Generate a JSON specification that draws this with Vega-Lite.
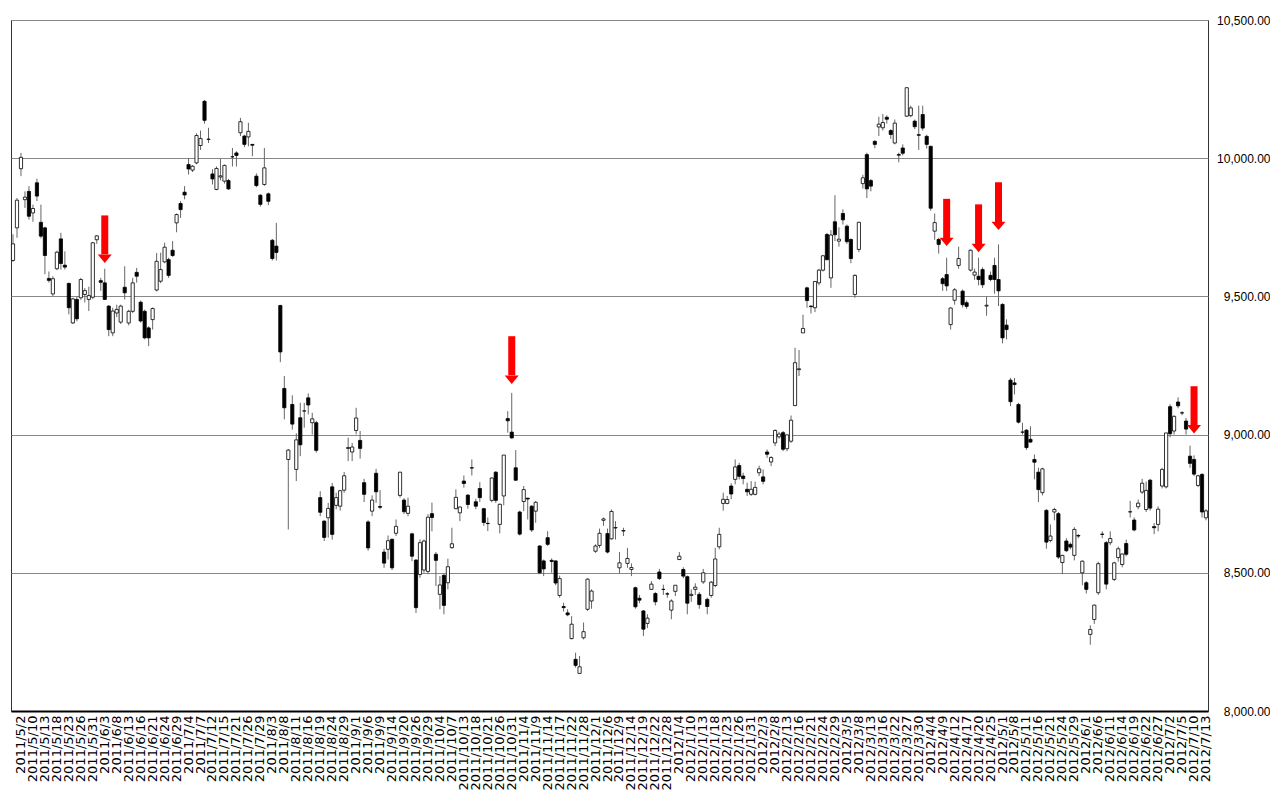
{
"$schema": "https://vega.github.io/schema/vega-lite/v6.json",
"width": 1197,
"height": 691,
"padding": {"left": 10, "top": 14, "right": 0, "bottom": 0},
"background": "white",
"config": {"view": {"stroke": "#333", "strokeWidth": 1}, "font": "Liberation Sans"},
"data": {"values": [
{"d":"2011/4/27","o":9630,"h":9725,"l":9625,"c":9690},
{"d":"2011/4/28","o":9748,"h":9856,"l":9712,"c":9848},
{"d":"2011/5/2","o":9962,"h":10019,"l":9935,"c":10003},
{"d":"2011/5/6","o":9850,"h":9880,"l":9820,"c":9859},
{"d":"2011/5/9","o":9880,"h":9899,"l":9778,"c":9790},
{"d":"2011/5/10","o":9802,"h":9832,"l":9770,"c":9818},
{"d":"2011/5/11","o":9911,"h":9926,"l":9845,"c":9863},
{"d":"2011/5/12","o":9768,"h":9832,"l":9710,"c":9718},
{"d":"2011/5/13","o":9748,"h":9752,"l":9580,"c":9648},
{"d":"2011/5/16","o":9565,"h":9590,"l":9550,"c":9558},
{"d":"2011/5/17","o":9509,"h":9573,"l":9501,"c":9564},
{"d":"2011/5/18","o":9600,"h":9665,"l":9595,"c":9660},
{"d":"2011/5/19","o":9708,"h":9730,"l":9597,"c":9619},
{"d":"2011/5/20","o":9613,"h":9663,"l":9597,"c":9606},
{"d":"2011/5/23","o":9547,"h":9550,"l":9435,"c":9459},
{"d":"2011/5/24","o":9404,"h":9495,"l":9400,"c":9491},
{"d":"2011/5/25","o":9489,"h":9500,"l":9410,"c":9419},
{"d":"2011/5/26","o":9495,"h":9567,"l":9488,"c":9561},
{"d":"2011/5/27","o":9507,"h":9530,"l":9478,"c":9521},
{"d":"2011/5/30","o":9489,"h":9535,"l":9447,"c":9503},
{"d":"2011/5/31","o":9497,"h":9697,"l":9490,"c":9694},
{"d":"2011/6/1","o":9705,"h":9722,"l":9690,"c":9719},
{"d":"2011/6/2","o":9557,"h":9567,"l":9520,"c":9551},
{"d":"2011/6/3","o":9549,"h":9600,"l":9487,"c":9489,"at":9793,"ab":9652,"ah":9621},
{"d":"2011/6/6","o":9465,"h":9468,"l":9356,"c":9380},
{"d":"2011/6/7","o":9368,"h":9459,"l":9356,"c":9447},
{"d":"2011/6/8","o":9440,"h":9470,"l":9425,"c":9453},
{"d":"2011/6/9","o":9407,"h":9470,"l":9400,"c":9465},
{"d":"2011/6/10","o":9533,"h":9609,"l":9489,"c":9513},
{"d":"2011/6/13","o":9404,"h":9452,"l":9395,"c":9446},
{"d":"2011/6/14","o":9446,"h":9567,"l":9440,"c":9549},
{"d":"2011/6/15","o":9587,"h":9603,"l":9550,"c":9573},
{"d":"2011/6/16","o":9479,"h":9485,"l":9405,"c":9411},
{"d":"2011/6/17","o":9446,"h":9452,"l":9345,"c":9350},
{"d":"2011/6/20","o":9386,"h":9392,"l":9320,"c":9350},
{"d":"2011/6/21","o":9416,"h":9460,"l":9380,"c":9456},
{"d":"2011/6/22","o":9523,"h":9657,"l":9518,"c":9627},
{"d":"2011/6/23","o":9555,"h":9658,"l":9548,"c":9597},
{"d":"2011/6/24","o":9625,"h":9694,"l":9620,"c":9678},
{"d":"2011/6/27","o":9633,"h":9640,"l":9567,"c":9576},
{"d":"2011/6/28","o":9667,"h":9700,"l":9643,"c":9648},
{"d":"2011/6/29","o":9766,"h":9800,"l":9732,"c":9796},
{"d":"2011/6/30","o":9836,"h":9845,"l":9784,"c":9814},
{"d":"2011/7/1","o":9877,"h":9899,"l":9851,"c":9867},
{"d":"2011/7/4","o":9977,"h":10001,"l":9941,"c":9961},
{"d":"2011/7/5","o":9957,"h":9975,"l":9950,"c":9971},
{"d":"2011/7/6","o":9983,"h":10090,"l":9978,"c":10082},
{"d":"2011/7/7","o":10046,"h":10100,"l":10030,"c":10071},
{"d":"2011/7/8","o":10206,"h":10210,"l":10125,"c":10137},
{"d":"2011/7/11","o":10068,"h":10110,"l":10055,"c":10069},
{"d":"2011/7/12","o":9943,"h":9960,"l":9905,"c":9925},
{"d":"2011/7/13","o":9887,"h":9970,"l":9884,"c":9963},
{"d":"2011/7/14","o":9932,"h":9997,"l":9920,"c":9936},
{"d":"2011/7/15","o":9917,"h":9977,"l":9908,"c":9974},
{"d":"2011/7/19","o":9919,"h":9925,"l":9885,"c":9889},
{"d":"2011/7/20","o":10005,"h":10037,"l":9970,"c":10005},
{"d":"2011/7/21","o":10019,"h":10025,"l":9970,"c":10010},
{"d":"2011/7/22","o":10092,"h":10146,"l":10080,"c":10132},
{"d":"2011/7/25","o":10080,"h":10085,"l":10040,"c":10050},
{"d":"2011/7/26","o":10077,"h":10128,"l":10043,"c":10097},
{"d":"2011/7/27","o":10050,"h":10050,"l":10007,"c":10047},
{"d":"2011/7/28","o":9935,"h":9945,"l":9895,"c":9901},
{"d":"2011/7/29","o":9866,"h":9870,"l":9825,"c":9833},
{"d":"2011/8/1","o":9905,"h":10037,"l":9900,"c":9965},
{"d":"2011/8/2","o":9871,"h":9876,"l":9830,"c":9844},
{"d":"2011/8/3","o":9703,"h":9708,"l":9630,"c":9637},
{"d":"2011/8/4","o":9682,"h":9766,"l":9630,"c":9659},
{"d":"2011/8/5","o":9467,"h":9470,"l":9262,"c":9299},
{"d":"2011/8/8","o":9167,"h":9212,"l":9055,"c":9097},
{"d":"2011/8/9","o":8910,"h":8948,"l":8657,"c":8944},
{"d":"2011/8/10","o":9109,"h":9142,"l":9018,"c":9038},
{"d":"2011/8/11","o":8874,"h":9005,"l":8832,"c":8981},
{"d":"2011/8/12","o":9061,"h":9115,"l":8922,"c":8963},
{"d":"2011/8/15","o":9085,"h":9115,"l":9025,"c":9086},
{"d":"2011/8/16","o":9133,"h":9149,"l":9073,"c":9107},
{"d":"2011/8/17","o":9043,"h":9079,"l":9000,"c":9057},
{"d":"2011/8/18","o":9043,"h":9050,"l":8935,"c":8943},
{"d":"2011/8/19","o":8772,"h":8795,"l":8705,"c":8719},
{"d":"2011/8/22","o":8687,"h":8690,"l":8615,"c":8628},
{"d":"2011/8/23","o":8699,"h":8753,"l":8627,"c":8733},
{"d":"2011/8/24","o":8811,"h":8825,"l":8620,"c":8639},
{"d":"2011/8/25","o":8744,"h":8790,"l":8730,"c":8772},
{"d":"2011/8/26","o":8741,"h":8800,"l":8725,"c":8797},
{"d":"2011/8/29","o":8799,"h":8865,"l":8790,"c":8851},
{"d":"2011/8/30","o":8950,"h":8989,"l":8904,"c":8953},
{"d":"2011/8/31","o":8937,"h":8970,"l":8904,"c":8955},
{"d":"2011/9/1","o":9015,"h":9097,"l":9001,"c":9060},
{"d":"2011/9/2","o":8979,"h":9013,"l":8913,"c":8950},
{"d":"2011/9/5","o":8826,"h":8840,"l":8756,"c":8784},
{"d":"2011/9/6","o":8684,"h":8690,"l":8580,"c":8590},
{"d":"2011/9/7","o":8723,"h":8780,"l":8705,"c":8763},
{"d":"2011/9/8","o":8860,"h":8876,"l":8753,"c":8793},
{"d":"2011/9/9","o":8740,"h":8799,"l":8730,"c":8737},
{"d":"2011/9/12","o":8575,"h":8587,"l":8518,"c":8535},
{"d":"2011/9/13","o":8585,"h":8635,"l":8548,"c":8616},
{"d":"2011/9/14","o":8621,"h":8625,"l":8510,"c":8518},
{"d":"2011/9/15","o":8643,"h":8693,"l":8633,"c":8668},
{"d":"2011/9/16","o":8780,"h":8865,"l":8772,"c":8864},
{"d":"2011/9/20","o":8763,"h":8770,"l":8713,"c":8721},
{"d":"2011/9/21","o":8715,"h":8772,"l":8705,"c":8741},
{"d":"2011/9/22","o":8641,"h":8645,"l":8542,"c":8560},
{"d":"2011/9/26","o":8546,"h":8550,"l":8355,"c":8374},
{"d":"2011/9/27","o":8494,"h":8621,"l":8482,"c":8609},
{"d":"2011/9/28","o":8510,"h":8620,"l":8500,"c":8615},
{"d":"2011/9/29","o":8505,"h":8712,"l":8495,"c":8701},
{"d":"2011/9/30","o":8714,"h":8754,"l":8650,"c":8700},
{"d":"2011/10/3","o":8567,"h":8575,"l":8452,"c":8545},
{"d":"2011/10/4","o":8422,"h":8488,"l":8368,"c":8456},
{"d":"2011/10/5","o":8491,"h":8495,"l":8350,"c":8382},
{"d":"2011/10/6","o":8464,"h":8551,"l":8440,"c":8522},
{"d":"2011/10/7","o":8591,"h":8663,"l":8587,"c":8605},
{"d":"2011/10/11","o":8732,"h":8802,"l":8730,"c":8773},
{"d":"2011/10/12","o":8717,"h":8740,"l":8687,"c":8738},
{"d":"2011/10/13","o":8832,"h":8852,"l":8808,"c":8823},
{"d":"2011/10/14","o":8781,"h":8785,"l":8732,"c":8747},
{"d":"2011/10/17","o":8880,"h":8910,"l":8852,"c":8879},
{"d":"2011/10/18","o":8757,"h":8768,"l":8730,"c":8741},
{"d":"2011/10/19","o":8805,"h":8828,"l":8756,"c":8772},
{"d":"2011/10/20","o":8732,"h":8735,"l":8670,"c":8682},
{"d":"2011/10/21","o":8679,"h":8700,"l":8651,"c":8678},
{"d":"2011/10/24","o":8762,"h":8845,"l":8755,"c":8843},
{"d":"2011/10/25","o":8864,"h":8868,"l":8753,"c":8762},
{"d":"2011/10/26","o":8675,"h":8750,"l":8643,"c":8748},
{"d":"2011/10/27","o":8778,"h":8926,"l":8744,"c":8926},
{"d":"2011/10/28","o":9058,"h":9085,"l":9007,"c":9050},
{"d":"2011/10/31","o":9009,"h":9151,"l":8985,"c":8988,"at":9356,"ab":9215,"ah":9183},
{"d":"2011/11/1","o":8880,"h":8944,"l":8832,"c":8835},
{"d":"2011/11/2","o":8720,"h":8725,"l":8635,"c":8640},
{"d":"2011/11/4","o":8758,"h":8814,"l":8723,"c":8801},
{"d":"2011/11/7","o":8770,"h":8771,"l":8693,"c":8767},
{"d":"2011/11/8","o":8741,"h":8745,"l":8648,"c":8655},
{"d":"2011/11/9","o":8723,"h":8760,"l":8681,"c":8755},
{"d":"2011/11/10","o":8597,"h":8600,"l":8495,"c":8500},
{"d":"2011/11/11","o":8543,"h":8548,"l":8488,"c":8514},
{"d":"2011/11/14","o":8627,"h":8651,"l":8597,"c":8603},
{"d":"2011/11/15","o":8545,"h":8552,"l":8500,"c":8541},
{"d":"2011/11/16","o":8543,"h":8545,"l":8455,"c":8463},
{"d":"2011/11/17","o":8418,"h":8490,"l":8410,"c":8479},
{"d":"2011/11/18","o":8378,"h":8392,"l":8360,"c":8374},
{"d":"2011/11/21","o":8355,"h":8368,"l":8343,"c":8348},
{"d":"2011/11/22","o":8262,"h":8343,"l":8259,"c":8314},
{"d":"2011/11/24","o":8187,"h":8211,"l":8157,"c":8165},
{"d":"2011/11/25","o":8136,"h":8199,"l":8136,"c":8160},
{"d":"2011/11/28","o":8265,"h":8320,"l":8259,"c":8287},
{"d":"2011/11/29","o":8368,"h":8480,"l":8362,"c":8477},
{"d":"2011/11/30","o":8398,"h":8440,"l":8370,"c":8434},
{"d":"2011/12/1","o":8578,"h":8603,"l":8572,"c":8597},
{"d":"2011/12/2","o":8599,"h":8660,"l":8590,"c":8643},
{"d":"2011/12/5","o":8690,"h":8700,"l":8670,"c":8695},
{"d":"2011/12/6","o":8642,"h":8660,"l":8570,"c":8575},
{"d":"2011/12/7","o":8623,"h":8729,"l":8620,"c":8722},
{"d":"2011/12/8","o":8662,"h":8687,"l":8620,"c":8664},
{"d":"2011/12/9","o":8518,"h":8575,"l":8498,"c":8536},
{"d":"2011/12/12","o":8651,"h":8663,"l":8633,"c":8653},
{"d":"2011/12/13","o":8534,"h":8590,"l":8518,"c":8552},
{"d":"2011/12/14","o":8512,"h":8534,"l":8488,"c":8519},
{"d":"2011/12/15","o":8446,"h":8450,"l":8370,"c":8377},
{"d":"2011/12/16","o":8408,"h":8420,"l":8390,"c":8401},
{"d":"2011/12/19","o":8362,"h":8365,"l":8271,"c":8296},
{"d":"2011/12/20","o":8317,"h":8350,"l":8300,"c":8336},
{"d":"2011/12/21","o":8440,"h":8470,"l":8440,"c":8459},
{"d":"2011/12/22","o":8425,"h":8430,"l":8382,"c":8395},
{"d":"2011/12/26","o":8503,"h":8514,"l":8474,"c":8479},
{"d":"2011/12/27","o":8440,"h":8457,"l":8420,"c":8440},
{"d":"2011/12/28","o":8424,"h":8430,"l":8410,"c":8423},
{"d":"2011/12/29","o":8365,"h":8404,"l":8332,"c":8398},
{"d":"2011/12/30","o":8433,"h":8454,"l":8416,"c":8455},
{"d":"2012/1/4","o":8548,"h":8575,"l":8546,"c":8560},
{"d":"2012/1/5","o":8512,"h":8520,"l":8480,"c":8488},
{"d":"2012/1/6","o":8486,"h":8490,"l":8350,"c":8390},
{"d":"2012/1/10","o":8418,"h":8440,"l":8395,"c":8422},
{"d":"2012/1/11","o":8440,"h":8462,"l":8420,"c":8448},
{"d":"2012/1/12","o":8422,"h":8430,"l":8370,"c":8385},
{"d":"2012/1/13","o":8467,"h":8514,"l":8460,"c":8500},
{"d":"2012/1/16","o":8404,"h":8410,"l":8350,"c":8378},
{"d":"2012/1/17","o":8418,"h":8470,"l":8410,"c":8466},
{"d":"2012/1/18","o":8454,"h":8590,"l":8448,"c":8550},
{"d":"2012/1/19","o":8594,"h":8663,"l":8585,"c":8639},
{"d":"2012/1/20","o":8751,"h":8790,"l":8725,"c":8766},
{"d":"2012/1/23","o":8751,"h":8778,"l":8748,"c":8765},
{"d":"2012/1/24","o":8814,"h":8824,"l":8766,"c":8785},
{"d":"2012/1/25","o":8838,"h":8910,"l":8820,"c":8883},
{"d":"2012/1/26","o":8888,"h":8898,"l":8838,"c":8849},
{"d":"2012/1/27","o":8850,"h":8862,"l":8820,"c":8841},
{"d":"2012/1/30","o":8802,"h":8826,"l":8778,"c":8793},
{"d":"2012/1/31","o":8784,"h":8832,"l":8778,"c":8802},
{"d":"2012/2/1","o":8784,"h":8830,"l":8780,"c":8809},
{"d":"2012/2/2","o":8862,"h":8888,"l":8850,"c":8876},
{"d":"2012/2/3","o":8847,"h":8874,"l":8820,"c":8831},
{"d":"2012/2/6","o":8937,"h":8946,"l":8916,"c":8929},
{"d":"2012/2/7","o":8901,"h":8922,"l":8886,"c":8917},
{"d":"2012/2/8","o":8970,"h":9019,"l":8958,"c":9015},
{"d":"2012/2/9","o":8992,"h":9010,"l":8985,"c":9002},
{"d":"2012/2/10","o":9007,"h":9013,"l":8940,"c":8947},
{"d":"2012/2/13","o":8949,"h":9000,"l":8940,"c":8999},
{"d":"2012/2/14","o":8976,"h":9069,"l":8970,"c":9052},
{"d":"2012/2/15","o":9105,"h":9314,"l":9103,"c":9260},
{"d":"2012/2/16","o":9235,"h":9306,"l":9212,"c":9238},
{"d":"2012/2/17","o":9368,"h":9434,"l":9368,"c":9384},
{"d":"2012/2/20","o":9531,"h":9535,"l":9459,"c":9485},
{"d":"2012/2/21","o":9465,"h":9467,"l":9438,"c":9463},
{"d":"2012/2/22","o":9459,"h":9554,"l":9443,"c":9554},
{"d":"2012/2/23","o":9549,"h":9600,"l":9540,"c":9595},
{"d":"2012/2/24","o":9595,"h":9650,"l":9590,"c":9647},
{"d":"2012/2/27","o":9724,"h":9730,"l":9630,"c":9633},
{"d":"2012/2/28","o":9567,"h":9740,"l":9531,"c":9722},
{"d":"2012/2/29","o":9770,"h":9866,"l":9700,"c":9723},
{"d":"2012/3/1","o":9700,"h":9750,"l":9680,"c":9707},
{"d":"2012/3/2","o":9800,"h":9815,"l":9760,"c":9777},
{"d":"2012/3/5","o":9754,"h":9760,"l":9690,"c":9698},
{"d":"2012/3/6","o":9706,"h":9710,"l":9620,"c":9637},
{"d":"2012/3/7","o":9507,"h":9580,"l":9495,"c":9576},
{"d":"2012/3/8","o":9670,"h":9770,"l":9660,"c":9768},
{"d":"2012/3/9","o":9908,"h":9940,"l":9890,"c":9929},
{"d":"2012/3/12","o":10013,"h":10020,"l":9856,"c":9889},
{"d":"2012/3/13","o":9919,"h":9925,"l":9880,"c":9899},
{"d":"2012/3/14","o":10061,"h":10065,"l":10036,"c":10050},
{"d":"2012/3/15","o":10113,"h":10150,"l":10080,"c":10123},
{"d":"2012/3/16","o":10110,"h":10160,"l":10100,"c":10129},
{"d":"2012/3/19","o":10148,"h":10155,"l":10125,"c":10141},
{"d":"2012/3/21","o":10100,"h":10105,"l":10070,"c":10086},
{"d":"2012/3/22","o":10055,"h":10140,"l":10050,"c":10127},
{"d":"2012/3/23","o":10013,"h":10020,"l":9985,"c":10011},
{"d":"2012/3/26","o":10037,"h":10050,"l":10010,"c":10018},
{"d":"2012/3/27","o":10152,"h":10255,"l":10150,"c":10255},
{"d":"2012/3/28","o":10154,"h":10190,"l":10148,"c":10182},
{"d":"2012/3/29","o":10134,"h":10140,"l":10105,"c":10114},
{"d":"2012/3/30","o":10085,"h":10190,"l":10030,"c":10083},
{"d":"2012/4/2","o":10158,"h":10190,"l":10100,"c":10109},
{"d":"2012/4/3","o":10079,"h":10085,"l":10035,"c":10050},
{"d":"2012/4/4","o":10043,"h":10045,"l":9810,"c":9819},
{"d":"2012/4/5","o":9736,"h":9800,"l":9705,"c":9767},
{"d":"2012/4/6","o":9706,"h":9712,"l":9655,"c":9688},
{"d":"2012/4/9","o":9564,"h":9570,"l":9520,"c":9546},
{"d":"2012/4/10","o":9579,"h":9640,"l":9520,"c":9538,"at":9853,"ab":9706,"ah":9682},
{"d":"2012/4/11","o":9398,"h":9460,"l":9380,"c":9458},
{"d":"2012/4/12","o":9486,"h":9530,"l":9470,"c":9524},
{"d":"2012/4/13","o":9612,"h":9680,"l":9600,"c":9637},
{"d":"2012/4/16","o":9519,"h":9525,"l":9460,"c":9470},
{"d":"2012/4/17","o":9477,"h":9485,"l":9455,"c":9464},
{"d":"2012/4/18","o":9595,"h":9670,"l":9590,"c":9667},
{"d":"2012/4/19","o":9577,"h":9600,"l":9560,"c":9588},
{"d":"2012/4/20","o":9573,"h":9640,"l":9540,"c":9561,"at":9833,"ab":9688,"ah":9660},
{"d":"2012/4/23","o":9597,"h":9605,"l":9530,"c":9542},
{"d":"2012/4/24","o":9465,"h":9500,"l":9430,"c":9468},
{"d":"2012/4/25","o":9576,"h":9590,"l":9555,"c":9561},
{"d":"2012/4/26","o":9612,"h":9640,"l":9510,"c":9561},
{"d":"2012/4/27","o":9561,"h":9688,"l":9465,"c":9520,"at":9913,"ab":9766,"ah":9740},
{"d":"2012/5/1","o":9471,"h":9475,"l":9330,"c":9350},
{"d":"2012/5/2","o":9396,"h":9417,"l":9345,"c":9380},
{"d":"2012/5/7","o":9197,"h":9205,"l":9103,"c":9119},
{"d":"2012/5/8","o":9187,"h":9205,"l":9145,"c":9181},
{"d":"2012/5/9","o":9109,"h":9115,"l":9040,"c":9045},
{"d":"2012/5/10","o":9009,"h":9043,"l":9000,"c":9009},
{"d":"2012/5/11","o":9016,"h":9020,"l":8945,"c":8953},
{"d":"2012/5/14","o":8983,"h":9030,"l":8970,"c":8973},
{"d":"2012/5/15","o":8910,"h":8928,"l":8838,"c":8900},
{"d":"2012/5/16","o":8864,"h":8880,"l":8756,"c":8801},
{"d":"2012/5/17","o":8790,"h":8880,"l":8780,"c":8876},
{"d":"2012/5/18","o":8726,"h":8730,"l":8587,"c":8611},
{"d":"2012/5/21","o":8617,"h":8675,"l":8610,"c":8633},
{"d":"2012/5/22","o":8720,"h":8735,"l":8690,"c":8729},
{"d":"2012/5/23","o":8714,"h":8720,"l":8550,"c":8557},
{"d":"2012/5/24","o":8537,"h":8565,"l":8495,"c":8563},
{"d":"2012/5/25","o":8615,"h":8625,"l":8575,"c":8580},
{"d":"2012/5/28","o":8603,"h":8610,"l":8585,"c":8593},
{"d":"2012/5/29","o":8563,"h":8665,"l":8545,"c":8657},
{"d":"2012/5/30","o":8635,"h":8640,"l":8625,"c":8633},
{"d":"2012/5/31","o":8500,"h":8545,"l":8455,"c":8542},
{"d":"2012/6/1","o":8464,"h":8470,"l":8425,"c":8440},
{"d":"2012/6/4","o":8277,"h":8310,"l":8240,"c":8295},
{"d":"2012/6/5","o":8331,"h":8385,"l":8315,"c":8383},
{"d":"2012/6/6","o":8428,"h":8540,"l":8420,"c":8533},
{"d":"2012/6/7","o":8640,"h":8650,"l":8625,"c":8639},
{"d":"2012/6/8","o":8609,"h":8615,"l":8440,"c":8459},
{"d":"2012/6/11","o":8609,"h":8650,"l":8600,"c":8624},
{"d":"2012/6/12","o":8476,"h":8540,"l":8470,"c":8536},
{"d":"2012/6/13","o":8555,"h":8595,"l":8540,"c":8587},
{"d":"2012/6/14","o":8530,"h":8570,"l":8520,"c":8568},
{"d":"2012/6/15","o":8606,"h":8620,"l":8560,"c":8567},
{"d":"2012/6/18","o":8720,"h":8760,"l":8700,"c":8721},
{"d":"2012/6/19","o":8691,"h":8700,"l":8650,"c":8655},
{"d":"2012/6/20","o":8739,"h":8765,"l":8730,"c":8752},
{"d":"2012/6/21","o":8792,"h":8840,"l":8785,"c":8824},
{"d":"2012/6/22","o":8729,"h":8830,"l":8720,"c":8798},
{"d":"2012/6/25","o":8835,"h":8840,"l":8725,"c":8734},
{"d":"2012/6/26","o":8667,"h":8680,"l":8640,"c":8663},
{"d":"2012/6/27","o":8675,"h":8740,"l":8650,"c":8730},
{"d":"2012/6/28","o":8814,"h":8880,"l":8805,"c":8874},
{"d":"2012/6/29","o":8811,"h":9006,"l":8805,"c":9006},
{"d":"2012/7/2","o":9101,"h":9110,"l":8990,"c":9003},
{"d":"2012/7/3","o":9013,"h":9070,"l":9000,"c":9066},
{"d":"2012/7/4","o":9118,"h":9135,"l":9095,"c":9104},
{"d":"2012/7/5","o":9078,"h":9085,"l":9070,"c":9079},
{"d":"2012/7/6","o":9049,"h":9060,"l":9000,"c":9020},
{"d":"2012/7/9","o":8922,"h":8960,"l":8880,"c":8896},
{"d":"2012/7/10","o":8910,"h":8925,"l":8850,"c":8857,"at":9175,"ab":9031,"ah":9004},
{"d":"2012/7/11","o":8816,"h":8855,"l":8810,"c":8851},
{"d":"2012/7/12","o":8856,"h":8860,"l":8700,"c":8720},
{"d":"2012/7/13","o":8699,"h":8730,"l":8690,"c":8724}
]},
"encoding": {
  "x": {"field": "d", "type": "ordinal", "sort": null,
    "scale": {"paddingInner": 0, "paddingOuter": 0},
    "axis": {"title": null, "labelAngle": -90, "labelFont": "DejaVu Sans", "labelFontSize": 13, "labelColor": "#000",
      "ticks": false, "labelPadding": 4, "domainColor": "#000", "domainWidth": 2, "grid": false, "labelOverlap": false,
      "values": ["2011/5/2","2011/5/10","2011/5/13","2011/5/18","2011/5/23","2011/5/26","2011/5/31","2011/6/3","2011/6/8","2011/6/13","2011/6/16","2011/6/21","2011/6/24","2011/6/29","2011/7/4","2011/7/7","2011/7/12","2011/7/15","2011/7/21","2011/7/26","2011/7/29","2011/8/3","2011/8/8","2011/8/11","2011/8/16","2011/8/19","2011/8/24","2011/8/29","2011/9/1","2011/9/6","2011/9/9","2011/9/14","2011/9/20","2011/9/26","2011/9/29","2011/10/4","2011/10/7","2011/10/13","2011/10/18","2011/10/21","2011/10/26","2011/10/31","2011/11/4","2011/11/9","2011/11/14","2011/11/17","2011/11/22","2011/11/28","2011/12/1","2011/12/6","2011/12/9","2011/12/14","2011/12/19","2011/12/22","2011/12/28","2012/1/4","2012/1/10","2012/1/13","2012/1/18","2012/1/23","2012/1/26","2012/1/31","2012/2/3","2012/2/8","2012/2/13","2012/2/16","2012/2/21","2012/2/24","2012/2/29","2012/3/5","2012/3/8","2012/3/13","2012/3/16","2012/3/22","2012/3/27","2012/3/30","2012/4/4","2012/4/9","2012/4/12","2012/4/17","2012/4/20","2012/4/25","2012/5/1","2012/5/8","2012/5/11","2012/5/16","2012/5/21","2012/5/24","2012/5/29","2012/6/1","2012/6/6","2012/6/11","2012/6/14","2012/6/19","2012/6/22","2012/6/27","2012/7/2","2012/7/5","2012/7/10","2012/7/13"]}}
},
"layer": [
  {"mark": {"type": "rule", "color": "#666", "strokeWidth": 1},
   "encoding": {
     "y": {"field": "l", "type": "quantitative", "scale": {"domain": [8000, 10500], "nice": false, "zero": false},
       "axis": {"title": null, "orient": "right", "values": [8000, 8500, 9000, 9500, 10000, 10500], "format": ",.2f",
         "grid": true, "gridColor": "#888", "gridWidth": 1, "domain": false, "ticks": false, "tickSize": 0,
         "labelAlign": "right", "labelPadding": 62, "labelFontSize": 12, "labelColor": "#000", "labelFont": "Liberation Sans"}},
     "y2": {"field": "h"}}},
  {"mark": {"type": "bar", "width": 3.2, "stroke": "#000", "strokeWidth": 0.8},
   "encoding": {
     "y": {"field": "o", "type": "quantitative",
       "axis": {"title": null, "orient": "right", "values": [8000, 8500, 9000, 9500, 10000, 10500], "format": ",.2f",
         "grid": true, "gridColor": "#888", "gridWidth": 1, "domain": false, "ticks": false, "tickSize": 0,
         "labelAlign": "right", "labelPadding": 62, "labelFontSize": 12, "labelColor": "#000", "labelFont": "Liberation Sans"}},
     "y2": {"field": "c"},
     "fill": {"condition": {"test": "datum.c >= datum.o", "value": "#ffffff"}, "value": "#000000"}}},
  {"transform": [{"filter": "isValid(datum.at)"}],
   "mark": {"type": "rule", "color": "#ff0000", "strokeWidth": 7, "strokeCap": "butt"},
   "encoding": {"y": {"field": "at", "type": "quantitative",
       "axis": {"title": null, "orient": "right", "values": [8000, 8500, 9000, 9500, 10000, 10500], "format": ",.2f",
         "grid": true, "gridColor": "#888", "gridWidth": 1, "domain": false, "ticks": false, "tickSize": 0,
         "labelAlign": "right", "labelPadding": 62, "labelFontSize": 12, "labelColor": "#000", "labelFont": "Liberation Sans"}},
     "y2": {"field": "ab"}}},
  {"transform": [{"filter": "isValid(datum.ah)"}],
   "mark": {"type": "point", "shape": "M-1,-1.2L1,-1.2L0,0Z", "size": 196, "filled": true, "color": "#ff0000", "opacity": 1, "strokeWidth": 0},
   "encoding": {"y": {"field": "ah", "type": "quantitative",
       "axis": {"title": null, "orient": "right", "values": [8000, 8500, 9000, 9500, 10000, 10500], "format": ",.2f",
         "grid": true, "gridColor": "#888", "gridWidth": 1, "domain": false, "ticks": false, "tickSize": 0,
         "labelAlign": "right", "labelPadding": 62, "labelFontSize": 12, "labelColor": "#000", "labelFont": "Liberation Sans"}}}}
]
}
